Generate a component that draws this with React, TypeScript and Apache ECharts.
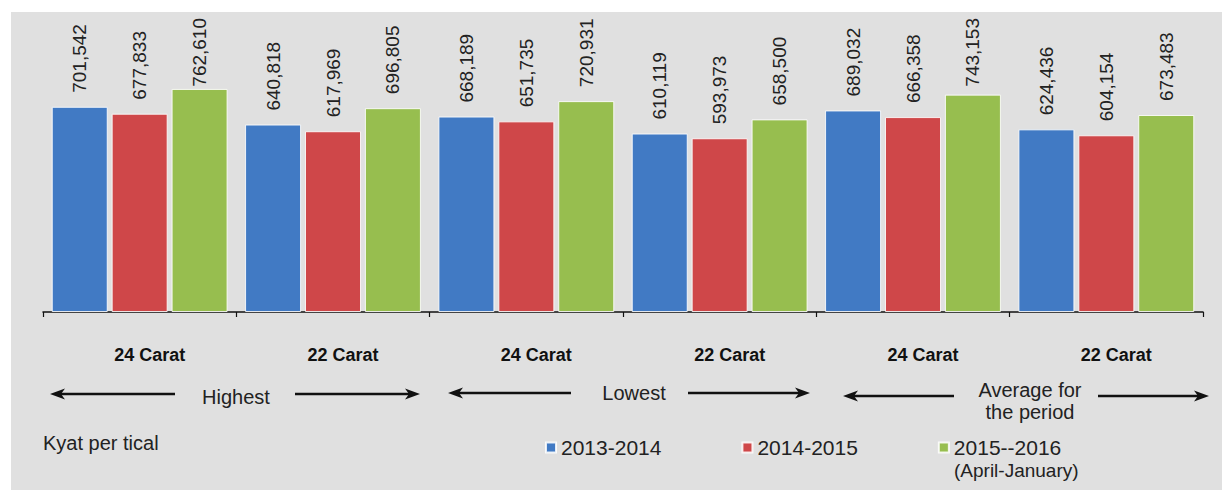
import React, { useEffect, useRef } from "react";
import * as echarts from "echarts";

const categories = ["24 Carat", "22 Carat", "24 Carat", "22 Carat", "24 Carat", "22 Carat"];
const seriesNames = ["2013-2014", "2014-2015", "2015--2016 (April-January)"];
const values2013 = [701542, 640818, 668189, 610119, 689032, 624436];
const values2014 = [677833, 617969, 651735, 593973, 666358, 604154];
const values2015 = [762610, 696805, 720931, 658500, 743153, 673483];
const colors = ["#417AC4", "#CF4749", "#97BE4F"];
const groupTitles = ["Highest", "Lowest", "Average for\nthe period"];

const SANS = "'Liberation Sans', Arial, sans-serif";
const LABEL_FONT_SIZE = 19;

const fmt = (v: number) => Number(v).toLocaleString("en-US");

function arrow(x1: number, x2: number, y: number, tipLeft: boolean) {
  const tip = tipLeft ? x1 : x2;
  const d = tipLeft ? 1 : -1;
  return [
    {
      type: "line",
      shape: { x1: tipLeft ? x1 + 8 : x1, y1: y, x2: tipLeft ? x2 : x2 - 8, y2: y },
      style: { stroke: "#111", lineWidth: 2.5 },
      silent: true,
    },
    {
      type: "polygon",
      shape: {
        points: [
          [tip, y],
          [tip + d * 15, y - 5.5],
          [tip + d * 11, y],
          [tip + d * 15, y + 5.5],
        ],
      },
      style: { fill: "#111" },
      silent: true,
    },
  ];
}

export default function App() {
  const ref = useRef<HTMLDivElement>(null);
  useEffect(() => {
    if (!ref.current) return;
    const chart = echarts.init(ref.current, undefined, { renderer: "svg" });
    const seriesData = [values2013, values2014, values2015];
    const mkSeries = (i: number) => ({
      name: seriesNames[i],
      type: "bar",
      data: seriesData[i],
      barWidth: 56,
      barGap: "7%",
      itemStyle: { color: colors[i], borderColor: "rgba(255,255,255,0.85)", borderWidth: 1 },
      label: {
        show: true,
        position: "top",
        rotate: 90,
        align: "left",
        verticalAlign: "middle",
        distance: 14,
        fontFamily: SANS,
        fontSize: LABEL_FONT_SIZE,
        color: "#222",
        formatter: (p: any) => fmt(p.value),
      },
    });

    const graphics: any[] = [
      {
        type: "rect",
        shape: { x: 11, y: 12, width: 1211, height: 478 },
        style: { fill: "#e0e0e0" },
        z: -100,
        silent: true,
      },
      ...arrow(50, 175, 394, true),
      ...arrow(295, 420, 394, false),
      ...arrow(448, 571, 393, true),
      ...arrow(688, 810, 393, false),
      ...arrow(843, 954, 396, true),
      ...arrow(1098, 1209, 396, false),
      {
        type: "text",
        x: 236,
        y: 397,
        style: { text: groupTitles[0], font: `20px ${SANS}`, fill: "#222", align: "center", verticalAlign: "middle" },
        silent: true,
      },
      {
        type: "text",
        x: 634,
        y: 393,
        style: { text: groupTitles[1], font: `20px ${SANS}`, fill: "#222", align: "center", verticalAlign: "middle" },
        silent: true,
      },
      {
        type: "text",
        x: 1030,
        y: 401,
        style: {
          text: groupTitles[2],
          font: `20px ${SANS}`,
          lineHeight: 22,
          fill: "#222",
          align: "center",
          verticalAlign: "middle",
        },
        silent: true,
      },
      {
        type: "text",
        x: 43,
        y: 443,
        style: { text: "Kyat per tical", font: `20px ${SANS}`, fill: "#222", align: "left", verticalAlign: "middle" },
        silent: true,
      },
      {
        type: "text",
        x: 954,
        y: 470,
        style: {
          text: "(April-January)",
          font: `19px ${SANS}`,
          lineHeight: 19,
          fill: "#222",
          align: "left",
          verticalAlign: "middle",
        },
        silent: true,
      },
    ];

    chart.setOption({
      animation: false,
      backgroundColor: "#ffffff",
      color: colors,
      grid: { left: 43, right: 23, top: 78, bottom: 178, containLabel: false },
      legend: {
        show: true,
        left: 545,
        top: 437,
        padding: 0,
        orient: "horizontal",
        icon: "rect",
        itemWidth: 10,
        itemHeight: 10,
        itemGap: 80,
        textStyle: { fontFamily: SANS, fontSize: 21, color: "#222", lineHeight: 20 },
        formatter: (name: string) => name.split(" (")[0],
        data: seriesNames,
        selectedMode: false,
      },
      xAxis: {
        type: "category",
        data: categories,
        axisLine: { show: true, lineStyle: { color: "#111", width: 1.5 } },
        axisTick: { show: true, length: 5, lineStyle: { color: "#111", width: 1.2 } },
        axisLabel: {
          interval: 0,
          margin: 34,
          fontFamily: SANS,
          fontWeight: "bold",
          fontSize: 18,
          color: "#111",
          padding: [0, 0, 0, 20],
        },
      },
      yAxis: {
        type: "value",
        min: 0,
        max: 800000,
        show: false,
        splitLine: { show: false },
      },
      graphic: graphics,
      series: [mkSeries(0), mkSeries(1), mkSeries(2)],
    });

    // Keep rotated value labels inside the top of the panel (as in the reference)
    const canvas = document.createElement("canvas");
    const ctx = canvas.getContext("2d");
    if (ctx) {
      ctx.font = `${LABEL_FONT_SIZE}px ${SANS}`;
      const topLimit = 18;
      chart.setOption({
        series: seriesData.map((vals) => ({
          data: vals.map((v) => {
            const top = chart.convertToPixel({ yAxisIndex: 0 }, v) as number;
            const len = ctx.measureText(fmt(v)).width;
            const dist = Math.min(14, top - topLimit - len);
            return { value: v, label: { distance: dist } };
          }),
        })),
      });
    }
    return () => chart.dispose();
  }, []);
  return <div ref={ref} style={{ position: "fixed", left: 0, top: 0, width: 1226, height: 490 }} />;
}
